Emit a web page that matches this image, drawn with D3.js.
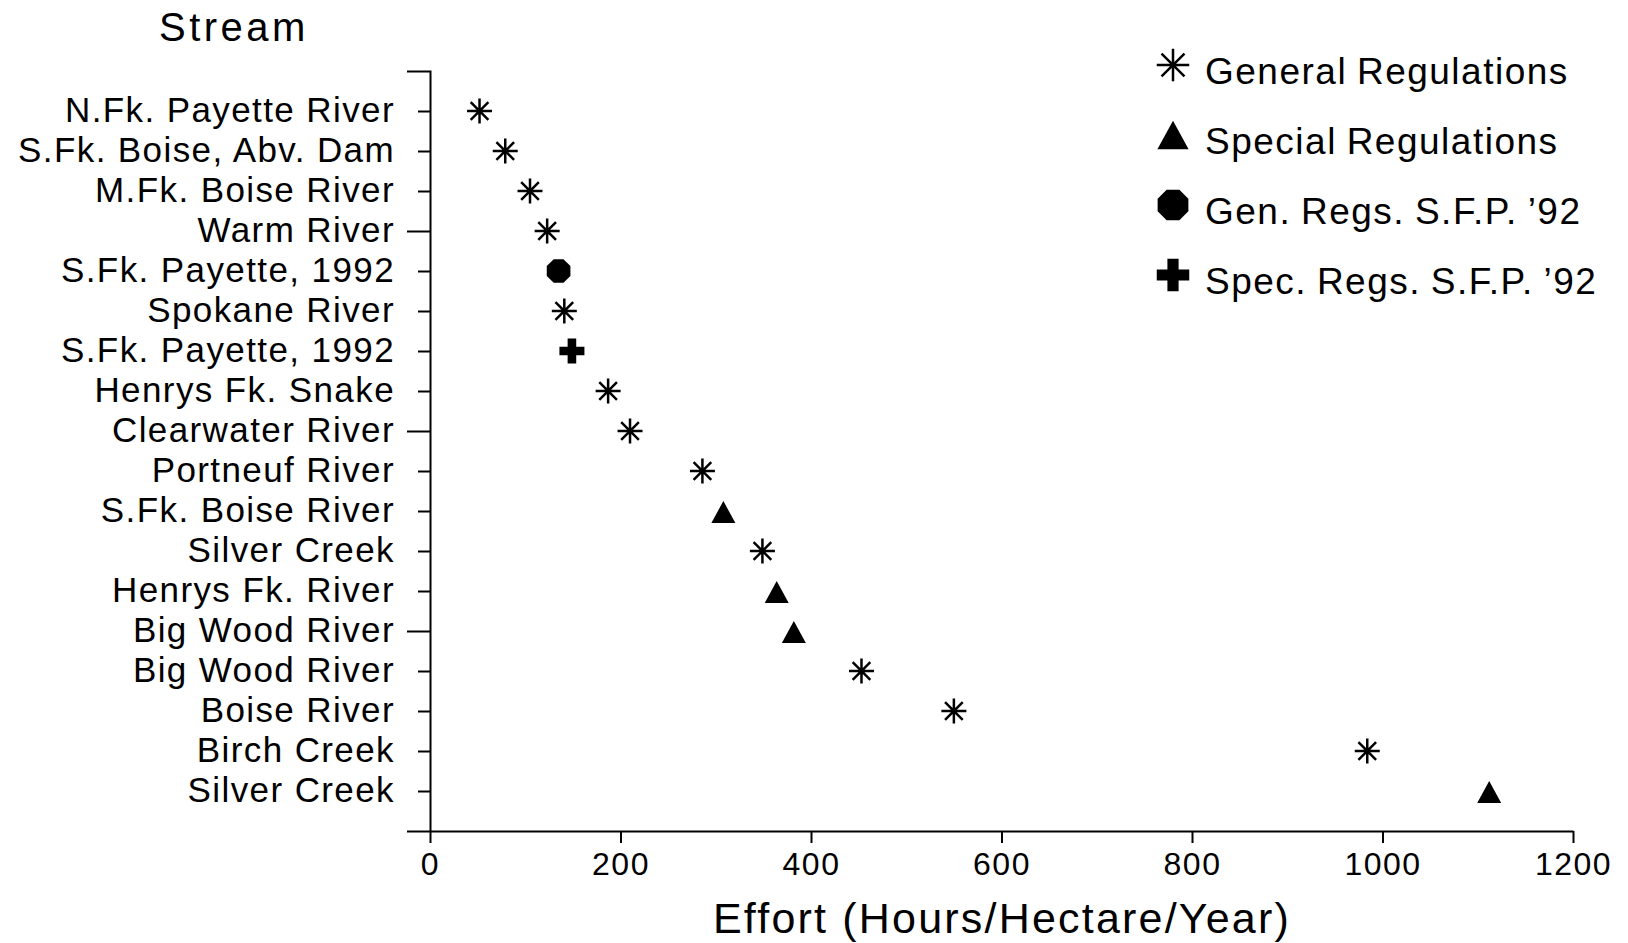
<!DOCTYPE html>
<html>
<head>
<meta charset="utf-8">
<script src="https://cdn.jsdelivr.net/npm/d3@7/dist/d3.min.js"></script>
<style>
  html, body { margin: 0; padding: 0; background: #fff; }
  svg { display: block; }
  text { font-family: "Liberation Sans", Arial, Helvetica, sans-serif; fill: #000; }
</style>
</head>
<body>
<svg id="chart" width="1628" height="943"></svg>
<script>
// ---- Data ----
const categories = [
  "N.Fk. Payette River", "S.Fk. Boise, Abv. Dam", "M.Fk. Boise River", "Warm River",
  "S.Fk. Payette, 1992", "Spokane River", "S.Fk. Payette, 1992", "Henrys Fk. Snake",
  "Clearwater River", "Portneuf River", "S.Fk. Boise River", "Silver Creek",
  "Henrys Fk. River", "Big Wood River", "Big Wood River", "Boise River",
  "Birch Creek", "Silver Creek"
];
const effort = [52, 79, 105, 123, 135, 141, 149, 187, 210, 286, 308, 349, 364, 382, 453, 550, 984, 1112];
const regType = ["gen", "gen", "gen", "gen", "genSFP", "gen", "specSFP", "gen",
                 "gen", "gen", "spec", "gen", "spec", "spec", "gen", "gen", "gen", "spec"];
const xTicks = [0, 200, 400, 600, 800, 1000, 1200];
const legendKeys = ["gen", "spec", "genSFP", "specSFP"];
const legendLabels = ["General Regulations", "Special Regulations", "Gen. Regs. S.F.P. \u201992", "Spec. Regs. S.F.P. \u201992"];

// ---- Layout ----
const svg = d3.select("#chart");
svg.append("rect").attr("width", 1628).attr("height", 943).attr("fill", "#fff");

const x = d3.scaleLinear().domain([0, 1200]).range([430, 1573]);
const y = d3.scalePoint().domain(d3.range(categories.length)).range([71, 831]).padding(1);

// ---- Symbols ----
function markerPath(type, s) {
  const p = d3.path();
  if (type === "gen") {
    const r = 12.5 * s;
    const d = r * Math.SQRT1_2;
    p.moveTo(-r, 0); p.lineTo(r, 0);
    p.moveTo(0, -r); p.lineTo(0, r);
    p.moveTo(-d, -d); p.lineTo(d, d);
    p.moveTo(-d, d); p.lineTo(d, -d);
  } else if (type === "spec") {
    const w = 24 * s, h = 22 * s;
    p.moveTo(0, -h / 2); p.lineTo(w / 2, h / 2); p.lineTo(-w / 2, h / 2); p.closePath();
  } else if (type === "genSFP") {
    const r = 12.8 * s;
    for (let k = 0; k < 8; k++) {
      const a = Math.PI / 8 + k * Math.PI / 4;
      const px = r * Math.cos(a), py = r * Math.sin(a);
      if (k === 0) p.moveTo(px, py); else p.lineTo(px, py);
    }
    p.closePath();
  } else {
    const e = 12.5 * s, t = 4.3 * s;
    p.moveTo(-t, -e); p.lineTo(t, -e); p.lineTo(t, -t); p.lineTo(e, -t); p.lineTo(e, t);
    p.lineTo(t, t); p.lineTo(t, e); p.lineTo(-t, e); p.lineTo(-t, t); p.lineTo(-e, t);
    p.lineTo(-e, -t); p.lineTo(-t, -t); p.closePath();
  }
  return p.toString();
}
function styleMarker(sel, type) {
  if (type === "gen") sel.attr("fill", "none").attr("stroke", "#000").attr("stroke-width", 2.5);
  else sel.attr("fill", "#000").attr("stroke", "none");
}

// ---- Axes ----
const yAxis = d3.axisLeft(y)
  .tickSizeInner(12).tickSizeOuter(23).tickPadding(23)
  .tickFormat(i => categories[i]);
const gy = svg.append("g").attr("transform", "translate(430,0)").call(yAxis);
gy.select(".domain").attr("stroke", "#000").attr("stroke-width", 2).attr("fill", "none");
gy.selectAll(".tick line").attr("stroke", "#000").attr("stroke-width", 2)
  .attr("x2", i => (i === 3 || i === 8 || i === 13) ? -23 : -12);
gy.selectAll(".tick text")
  .attr("font-size", 35).attr("letter-spacing", "1.4px")
  .style("font-family", "'Liberation Sans', Arial, sans-serif").attr("fill", "#000")
  .attr("dy", "0.3em");

const xAxis = d3.axisBottom(x).tickValues(xTicks).tickFormat(d3.format("d"))
  .tickSizeInner(12).tickSizeOuter(0).tickPadding(9);
const gx = svg.append("g").attr("transform", "translate(0,831)").call(xAxis);
gx.select(".domain").attr("stroke", "#000").attr("stroke-width", 2);
gx.selectAll(".tick line").attr("stroke", "#000").attr("stroke-width", 2);
gx.selectAll(".tick text")
  .attr("font-size", 32).attr("letter-spacing", "1.5px")
  .style("font-family", "'Liberation Sans', Arial, sans-serif").attr("fill", "#000");

// ---- Titles ----
svg.append("text").attr("x", 159).attr("y", 41)
  .attr("font-size", 40).attr("letter-spacing", "3.5px").text("Stream");
svg.append("text").attr("x", 1002).attr("y", 933).attr("text-anchor", "middle")
  .attr("font-size", 43).attr("letter-spacing", "2.2px").text("Effort (Hours/Hectare/Year)");

// ---- Points ----
svg.append("g").selectAll("path.pt")
  .data(effort.map((v, i) => ({ v, i, t: regType[i] })))
  .join("path")
  .attr("class", "pt")
  .attr("transform", d => `translate(${x(d.v)},${y(d.i) + (d.t === "spec" ? 1 : 0)})`)
  .attr("d", d => markerPath(d.t, 1))
  .each(function (d) { styleMarker(d3.select(this), d.t); });

// ---- Legend ----
const legendY = d3.scalePoint().domain(legendKeys).range([65, 275]);
const lg = svg.append("g");
legendKeys.forEach((k, j) => {
  const cy = legendY(k);
  const m = lg.append("path")
    .attr("transform", `translate(1173,${cy})`)
    .attr("d", markerPath(k, 1.3));
  styleMarker(m, k);
  lg.append("text").attr("x", 1205).attr("y", cy + 19)
    .attr("font-size", 37).attr("letter-spacing", "1.5px").attr("word-spacing", "-2px")
    .text(legendLabels[j]);
});
</script>
</body>
</html>
